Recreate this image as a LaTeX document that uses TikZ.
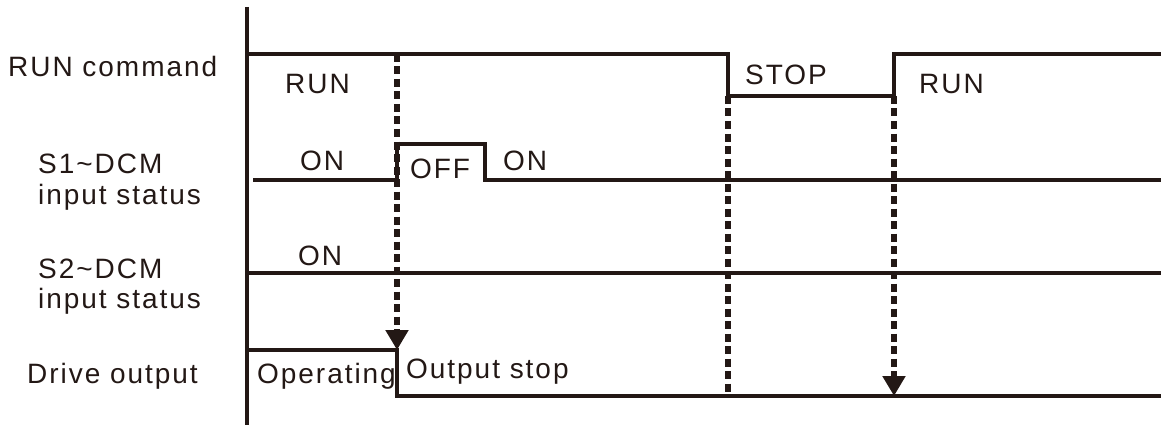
\documentclass[tikz,border=0pt]{standalone}
\usepackage{fontspec}
\setmainfont{Liberation Sans}[LetterSpace=7]
\usetikzlibrary{arrows.meta}
\definecolor{ink}{RGB}{35,24,21}
\begin{document}
\begin{tikzpicture}[x=1pt,y=-1pt,
  lbl/.style={inner sep=0pt,anchor=base west,font=\fontsize{28}{30}\selectfont,text=ink},
  sig/.style={draw=ink,line width=3.2pt,line join=miter},
  ev/.style={draw=ink,line width=5.4pt,dash pattern=on 8pt off 4.5pt},
  evarrow/.style={ev,-{Triangle[length=20pt,width=22pt]}}]
\useasboundingbox (0,0) rectangle (1161,425);
% axis
\coordinate (axT) at (247,7);
\coordinate (axB) at (247,425);
\draw[sig] (axT) -- (axB);
% key points
\coordinate (runA) at (247,54);
\coordinate (runB) at (728,54);
\coordinate (stopA) at (728,96);
\coordinate (stopB) at (894,96);
\coordinate (runC) at (894,54);
\coordinate (runD) at (1161,54);
\coordinate (s1A) at (253,180);
\coordinate (s1B) at (397,180);
\coordinate (offA) at (397,144);
\coordinate (offB) at (485,144);
\coordinate (s1C) at (485,180);
\coordinate (s1D) at (1161,180);
\coordinate (s2A) at (247,273);
\coordinate (s2B) at (1161,273);
\coordinate (drA) at (247,350);
\coordinate (drB) at (397,350);
\coordinate (drC) at (397,396);
\coordinate (drD) at (1161,396);
\coordinate (ev1top) at (397,54);
\coordinate (ev2bot) at (728,394);
\coordinate (ev3bot) at (894,396);
% signals
\draw[sig] (runA) -- (runB) -- (stopA) -- (stopB) -- (runC) -- (runD);
\draw[sig] (s1A) -- (s1B) -- (offA) -- (offB) -- (s1C) -- (s1D);
\draw[sig] (s2A) -- (s2B);
\draw[sig] (drA) -- (drB) -- (drC) -- (drD);
% event lines
\draw[evarrow] (ev1top) -- (drB);
\draw[ev] (stopA) -- (ev2bot);
\draw[evarrow] (stopB) -- (ev3bot);
% left labels
\node[lbl] (lcmd) at (8,77) {RUN command};
\node[lbl] (ls1a) at (38,173) {S1\textasciitilde DCM};
\node[lbl] (ls1b) at (38,204) {input status};
\node[lbl] (ls2a) at (38,278) {S2\textasciitilde DCM};
\node[lbl] (ls2b) at (38,308) {input status};
\node[lbl] (ldr) at (27,383) {Drive output};
% state labels
\node[lbl] (trun1) at (285,94) {RUN};
\node[lbl] (tstop) at (745,85) {STOP};
\node[lbl] (trun2) at (919,94) {RUN};
\node[lbl] (ton1) at (300,170) {ON};
\node[lbl] (toff) at (410,178) {OFF};
\node[lbl] (ton2) at (503,170) {ON};
\node[lbl] (ton3) at (298,265) {ON};
\node[lbl] (topr) at (257,383) {Operating};
\node[lbl] (tost) at (406,378) {Output stop};
\end{tikzpicture}
\end{document}
